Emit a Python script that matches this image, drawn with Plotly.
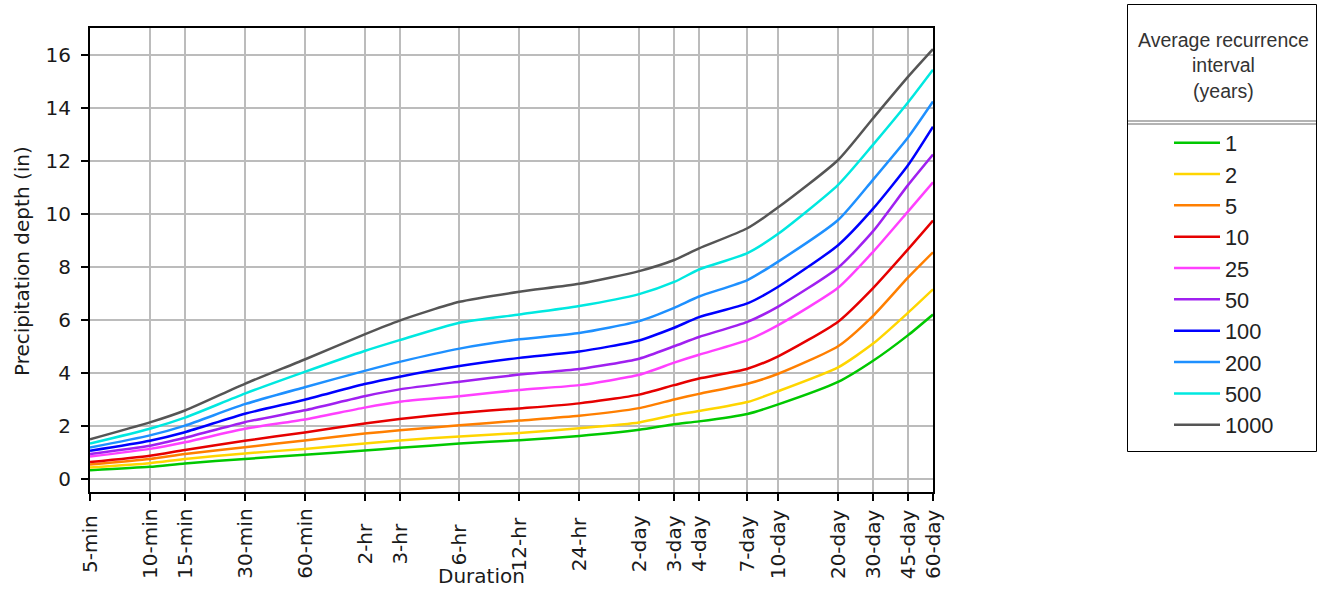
import math
import plotly.graph_objects as go

# Durations in minutes and their axis labels
durations_min = [5, 10, 15, 30, 60, 120, 180, 360, 720, 1440,
                 2880, 4320, 5760, 10080, 14400, 28800, 43200, 64800, 86400]
duration_labels = ["5-min", "10-min", "15-min", "30-min", "60-min", "2-hr", "3-hr",
                   "6-hr", "12-hr", "24-hr", "2-day", "3-day", "4-day", "7-day",
                   "10-day", "20-day", "30-day", "45-day", "60-day"]

# Average recurrence intervals (years)
recurrence_years = ["1", "2", "5", "10", "25", "50", "100", "200", "500", "1000"]

# Precipitation depth (in) for each recurrence interval
depth_1 = [0.31, 0.44, 0.57, 0.74, 0.90, 1.06, 1.16, 1.32, 1.45, 1.61,
           1.84, 2.05, 2.16, 2.44, 2.80, 3.65, 4.45, 5.42, 6.20]
depth_2 = [0.42, 0.58, 0.74, 0.95, 1.12, 1.32, 1.44, 1.59, 1.72, 1.90,
           2.12, 2.40, 2.55, 2.89, 3.30, 4.20, 5.10, 6.27, 7.15]
depth_5 = [0.53, 0.74, 0.93, 1.18, 1.44, 1.70, 1.82, 2.01, 2.19, 2.37,
           2.66, 2.99, 3.20, 3.58, 3.96, 5.00, 6.15, 7.60, 8.55]
depth_10 = [0.62, 0.86, 1.08, 1.43, 1.74, 2.08, 2.25, 2.48, 2.65, 2.84,
            3.17, 3.53, 3.78, 4.15, 4.62, 5.93, 7.20, 8.67, 9.75]
depth_25 = [0.83, 1.12, 1.37, 1.88, 2.23, 2.68, 2.90, 3.11, 3.35, 3.53,
            3.92, 4.38, 4.68, 5.23, 5.80, 7.21, 8.57, 10.10, 11.20]
depth_50 = [0.93, 1.24, 1.54, 2.13, 2.58, 3.11, 3.37, 3.66, 3.93, 4.14,
            4.53, 5.00, 5.35, 5.92, 6.50, 7.97, 9.35, 11.10, 12.25]
depth_100 = [1.05, 1.43, 1.75, 2.45, 2.98, 3.57, 3.85, 4.25, 4.56, 4.80,
             5.22, 5.70, 6.10, 6.62, 7.25, 8.82, 10.20, 11.85, 13.30]
depth_200 = [1.17, 1.63, 2.00, 2.81, 3.45, 4.07, 4.41, 4.91, 5.26, 5.50,
             5.95, 6.45, 6.88, 7.50, 8.20, 9.77, 11.30, 12.90, 14.25]
depth_500 = [1.32, 1.88, 2.30, 3.21, 4.03, 4.82, 5.23, 5.89, 6.20, 6.52,
             6.97, 7.43, 7.90, 8.52, 9.25, 11.10, 12.62, 14.22, 15.45]
depth_1000 = [1.48, 2.12, 2.57, 3.58, 4.50, 5.45, 5.97, 6.68, 7.06, 7.36,
              7.84, 8.26, 8.70, 9.46, 10.25, 12.04, 13.62, 15.19, 16.23]

depths = [depth_1, depth_2, depth_5, depth_10, depth_25,
          depth_50, depth_100, depth_200, depth_500, depth_1000]
line_colors = ["#00c800", "#ffd500", "#ff7f00", "#e60000", "#ff40ff",
               "#a020f0", "#0000ff", "#1e90ff", "#00e8e0", "#555555"]

y_ticks = [0, 2, 4, 6, 8, 10, 12, 14, 16]

# Canvas and plotting-area geometry (pixels)
W, H = 1323, 590
PL, PR, PT, PB = 90, 933, 28, 492


def px(x):
    return (x - PL) / (PR - PL)


def py(y):
    return (PB - y) / (PB - PT)


FONT = "DejaVu Sans"
TXT = "#1a1a1a"

fig = go.Figure()
for name, ys, color in zip(recurrence_years, depths, line_colors):
    fig.add_trace(go.Scatter(
        x=durations_min, y=ys, mode="lines", name=name,
        line=dict(color=color, width=2.5, shape="spline", smoothing=0.6),
        hoverinfo="x+y+name",
    ))

fig.update_xaxes(
    type="log",
    range=[math.log10(durations_min[0]), math.log10(durations_min[-1])],
    tickvals=durations_min, ticktext=[""] * len(durations_min),
    showgrid=True, gridcolor="#bcbcbc", gridwidth=1.5,
    showline=True, linecolor="black", linewidth=2, mirror=True,
    ticks="outside", ticklen=7, tickwidth=1.5, tickcolor="black",
    zeroline=False,
)
fig.update_yaxes(
    range=[-0.51, 17.03],
    tickvals=y_ticks,
    showgrid=True, gridcolor="#bcbcbc", gridwidth=1.5,
    showline=True, linecolor="black", linewidth=2, mirror=True,
    ticks="outside", ticklen=7, tickwidth=1.5, tickcolor="black",
    ticklabelstandoff=6,
    tickfont=dict(family=FONT, size=20, color=TXT),
    zeroline=False,
)

annotations = []
# Duration labels, rotated and centred below the axis
for d, lab in zip(durations_min, duration_labels):
    annotations.append(dict(
        x=math.log10(d), xref="x", y=py(544), yref="paper",
        text=lab, textangle=-90, showarrow=False,
        xanchor="center", yanchor="middle",
        font=dict(family=FONT, size=20, color=TXT),
    ))
# Axis titles
annotations.append(dict(
    x=px(481), y=py(576), xref="paper", yref="paper", text="Duration",
    showarrow=False, xanchor="center", yanchor="middle",
    font=dict(family=FONT, size=20, color=TXT),
))
annotations.append(dict(
    x=px(22), y=py(261), xref="paper", yref="paper",
    text="Precipitation depth (in)", textangle=-90,
    showarrow=False, xanchor="center", yanchor="middle",
    font=dict(family=FONT, size=20, color=TXT),
))
# Legend heading
annotations.append(dict(
    x=px(1223), y=py(66), xref="paper", yref="paper",
    text="Average recurrence<br>interval<br>(years)",
    showarrow=False, xanchor="center", yanchor="middle", align="center",
    font=dict(family="Liberation Sans", size=19.5, color="#333333"),
))

shapes = [
    # legend frame
    dict(type="rect", xref="paper", yref="paper",
         x0=px(1127.5), x1=px(1316.5), y0=py(451.5), y1=py(4.5),
         line=dict(color="black", width=1), fillcolor="rgba(0,0,0,0)", layer="above"),
    # heading separator
    dict(type="line", xref="paper", yref="paper",
         x0=px(1128), x1=px(1316), y0=py(121), y1=py(121),
         line=dict(color="#9a9a9a", width=1.5)),
    dict(type="line", xref="paper", yref="paper",
         x0=px(1128), x1=px(1316), y0=py(124), y1=py(124),
         line=dict(color="#9a9a9a", width=1.5)),
]

fig.update_layout(
    width=W, height=H,
    margin=dict(l=PL, r=W - PR, t=PT, b=H - PB, pad=0),
    paper_bgcolor="white", plot_bgcolor="white",
    font=dict(family=FONT, size=20, color=TXT),
    showlegend=True,
    legend=dict(
        x=px(1169), y=py(122), xanchor="left", yanchor="top",
        bgcolor="rgba(0,0,0,0)", borderwidth=0,
        font=dict(family="Liberation Sans", size=21.8, color="#222222"),
        itemwidth=46, traceorder="normal",
    ),
    annotations=annotations,
    shapes=shapes,
)

fig.write_html("out.html")
